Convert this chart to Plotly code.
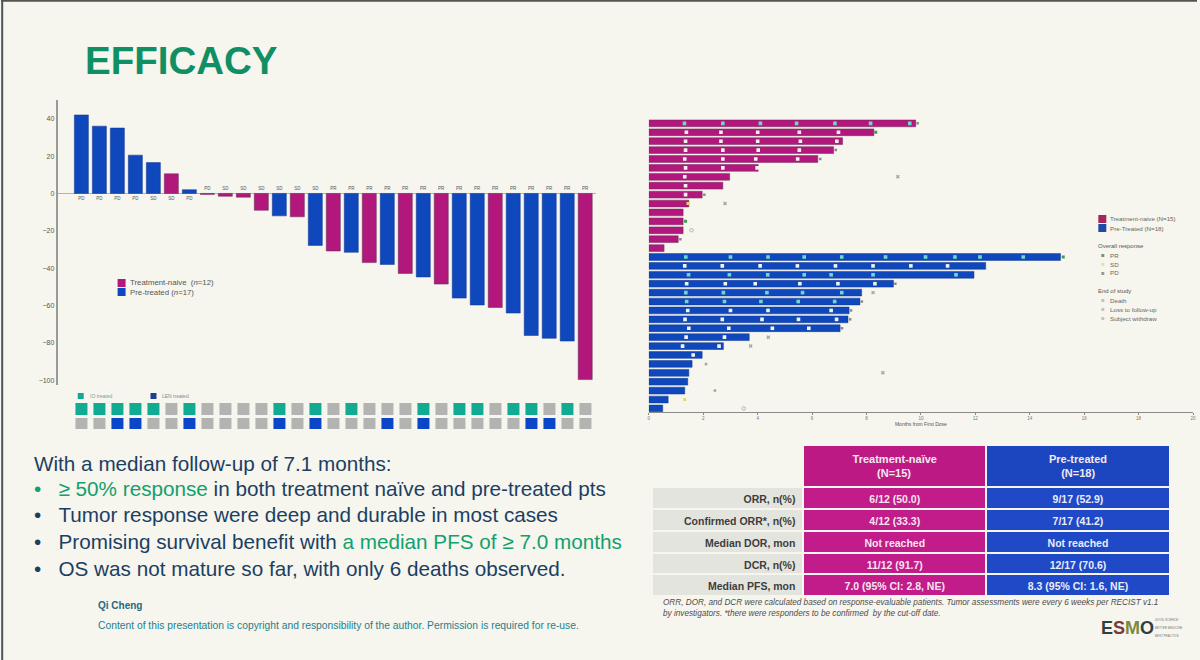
import plotly.graph_objects as go

MAGENTA = "#b2187c"
BLUE = "#0f47bd"
TEAL = "#10ab90"
NAVY = "#1b3f63"
GREEN = "#0f8f63"

# waterfall, best change from baseline
best_change = [42, 36, 35, 20.5, 16.5, 10.5, 2, -0.5, -1.5, -2, -9, -12, -12.5, -27.8, -30.8,
               -31.5, -37, -38, -42.8, -44.7, -48.5, -56, -59.7, -61, -64, -76, -77.5, -79, -99.6]
arm = ["P", "P", "P", "P", "P", "T", "P", "T", "T", "T", "T", "P", "T", "P", "T",
       "P", "T", "P", "T", "P", "T", "P", "P", "T", "P", "P", "P", "P", "T"]
response = ["PD", "PD", "PD", "PD", "SD", "SD", "PD", "PD", "SD", "SD", "SD", "SD", "SD", "SD", "PR",
            "PR", "PR", "PR", "PR", "PR", "PR", "PR", "PR", "PR", "PR", "PR", "PR", "PR", "PR"]
io_treated = [0, 1, 2, 3, 4, 6, 11, 13, 15, 19, 21, 22, 24, 25, 27]
len_treated = [2, 3, 6, 11, 13, 17, 19, 25, 26]
y_ticks = [40, 20, 0, -20, -40, -60, -80, -100]

# swimmer plot, months
naive_months = [9.81, 8.27, 7.12, 6.79, 6.21, 4.02, 2.97, 2.72, 1.96, 1.47, 1.26, 1.26, 1.26, 1.08, 0.56]
pre_months = [15.13, 12.38, 11.95, 8.99, 7.82, 7.76, 7.36, 7.32, 7.03, 3.69, 2.74, 1.96, 1.59, 1.47, 1.43, 1.32, 0.71, 0.51]
naive_pr = [[1.31, 2.72, 4.10, 5.43, 6.84, 8.15, 9.59], [1.38, 2.65, 4.0, 5.53, 6.97], [1.35, 2.65, 4.0, 5.57, 6.91],
            [1.35, 2.72, 4.02, 5.53], [1.32, 2.72, 3.93, 5.47], [1.35, 2.72, 3.98], [1.32], [1.35], [1.35],
            [], [], [], [], [], []]
pre_pr = [[1.36, 3.0, 4.38, 5.71, 7.09, 8.70, 10.17, 11.25, 12.17, 13.76], [1.32, 2.70, 4.09, 5.46, 6.86, 8.24, 9.63, 10.98],
          [1.46, 2.96, 4.37, 5.71, 6.70, 8.24, 11.29], [1.39, 2.81, 3.91, 5.55, 6.95, 8.31], [1.36, 2.74, 4.34, 5.65, 7.09],
          [1.39, 2.78, 4.12, 5.49, 6.83], [1.43, 3.0, 4.38, 6.70], [1.33, 2.70, 4.16, 5.50, 6.90], [1.47, 2.94, 4.54, 5.88],
          [1.37, 2.78], [1.24, 2.58], [1.63], [], [], [], [], [], []]
white_rows = [1, 2, 3, 4, 5, 6, 7, 8, 16, 18, 21, 22, 23, 24, 25, 26]
pr_end_x = [8.34, 1.35, 15.23]
pr_end_row = [1, 11, 15]
sd_x = [1.44, 1.32]
sd_row = [9, 31]
pd_x = [9.88, 6.87, 6.3, 2.04, 1.16, 9.06, 7.83, 7.43, 7.4, 7.1]
pd_row = [0, 3, 4, 8, 13, 18, 20, 21, 22, 23]
death_x = [9.15, 2.8, 8.24, 4.39, 3.74, 8.6]
death_row = [6, 9, 19, 24, 25, 28]
lost_x = [2.1, 2.43]
lost_row = [27, 30]
withdraw_x = [1.57, 3.49]
withdraw_row = [12, 32]

# table
table_head = ["", "<b>Treatment-naïve<br>\u00a0\u00a0\u00a0\u00a0\u00a0\u00a0\u00a0\u00a0(N=15)</b>", "<b>Pre-treated<br>\u00a0\u00a0\u00a0\u00a0(N=18)</b>"]
table_rows = ["ORR, n(%)", "Confirmed ORR*, n(%)", "Median DOR, mon", "DCR, n(%)", "Median PFS, mon"]
table_naive = ["6/12 (50.0)", "4/12 (33.3)", "Not reached", "11/12 (91.7)", "7.0 (95% CI: 2.8, NE)"]
table_pre = ["9/17 (52.9)", "7/17 (41.2)", "Not reached", "12/17 (70.6)", "8.3 (95% CI: 1.6, NE)"]


def px(x):
    return x / 1200


def py(y):
    return 1 - y / 660


def note(x, y, text, size, color, bold=False, italic=False, font="Liberation Sans"):
    if bold:
        text = "<b>" + text + "</b>"
    if italic:
        text = "<i>" + text + "</i>"
    fig.add_annotation(x=px(x), y=py(y), xref="paper", yref="paper", text=text, showarrow=False,
                       xanchor="left", yanchor="middle", align="left",
                       font=dict(size=size, color=color, family=font))


def swatch(x0, y0, x1, y1, color):
    fig.add_shape(type="rect", xref="paper", yref="paper", x0=px(x0), x1=px(x1), y0=py(y1), y1=py(y0),
                  fillcolor=color, line=dict(width=0))


fig = go.Figure()

# waterfall bars
for code, name, color in [("T", "Treatment-naive", MAGENTA), ("P", "Pre-treated", BLUE)]:
    idx = [i for i, a in enumerate(arm) if a == code]
    fig.add_trace(go.Bar(x=idx, y=[best_change[i] for i in idx], name=name, width=0.78,
                         marker=dict(color=color, line=dict(color="#5a2a50" if code == "T" else "#12368c", width=0.5)),
                         xaxis="x", yaxis="y"))

fig.add_trace(go.Scatter(x=list(range(len(response))), y=[-3 if v > 0 else 2.5 for v in best_change],
                         text=response, mode="text", textfont=dict(size=4.5, color="#555"),
                         hoverinfo="skip", xaxis="x", yaxis="y"))

# IO / LEN tiles
tiles = [[2 if i in len_treated else 0 for i in range(len(arm))],
         [1 if i in io_treated else 0 for i in range(len(arm))]]
fig.add_trace(go.Heatmap(z=tiles, x=list(range(len(arm))), y=["LEN", "IO"], xgap=6, ygap=3, showscale=False,
                         zmin=0, zmax=2, colorscale=[[0, "#b3b3b1"], [0.33, "#b3b3b1"], [0.33, TEAL], [0.67, TEAL],
                                                     [0.67, "#0b45c8"], [1, "#0b45c8"]],
                         xaxis="x2", yaxis="y2", hoverinfo="skip"))

# swimmer bars
all_months = naive_months + pre_months
rows = list(range(len(all_months)))
n_naive = len(naive_months)
fig.add_trace(go.Bar(x=naive_months, y=rows[:n_naive], orientation="h", width=0.76, name="Treatment-naive (N=15)",
                     marker=dict(color=MAGENTA, line=dict(color="#6e2a5c", width=0.5)), xaxis="x3", yaxis="y3"))
fig.add_trace(go.Bar(x=pre_months, y=rows[n_naive:], orientation="h", width=0.76, name="Pre-Treated (N=18)",
                     marker=dict(color=BLUE, line=dict(color="#12368c", width=0.5)), xaxis="x3", yaxis="y3"))

pr_x, pr_y, pr_color = [], [], []
for row, visits in enumerate(naive_pr + pre_pr):
    for v in visits:
        pr_x.append(v)
        pr_y.append(row)
        pr_color.append("#f4f4ee" if row in white_rows else "#6fd8cc")

fig.add_trace(go.Scatter(x=pr_x, y=pr_y, mode="markers", name="PR",
                         marker=dict(symbol="square", size=3.6, color=pr_color), xaxis="x3", yaxis="y3"))
fig.add_trace(go.Scatter(x=pr_end_x, y=pr_end_row, mode="markers", name="PR",
                         marker=dict(symbol="square", size=3, color="#3f9a5a"), xaxis="x3", yaxis="y3"))
fig.add_trace(go.Scatter(x=sd_x, y=sd_row, mode="markers", name="SD",
                         marker=dict(symbol="square", size=3, color="#e8d860"), xaxis="x3", yaxis="y3"))
fig.add_trace(go.Scatter(x=pd_x, y=pd_row, mode="markers", name="PD",
                         marker=dict(symbol="square", size=2.5, color="#8a8a84"), xaxis="x3", yaxis="y3"))
fig.add_trace(go.Scatter(x=death_x, y=death_row, mode="markers", name="Death",
                         marker=dict(symbol="x", size=3.5, color="#a8a8a0"), xaxis="x3", yaxis="y3"))
fig.add_trace(go.Scatter(x=lost_x, y=lost_row, mode="markers", name="Loss to follow-up",
                         marker=dict(symbol="circle", size=3, color="#a8a8a0"), xaxis="x3", yaxis="y3"))
fig.add_trace(go.Scatter(x=withdraw_x, y=withdraw_row, mode="markers", name="Subject withdraw",
                         marker=dict(symbol="circle-open", size=3.5, color="#b4b4ac"), xaxis="x3", yaxis="y3"))

# table
fig.add_trace(go.Table(
    domain=dict(x=[px(653), px(1173)], y=[py(597), py(445)]),
    columnwidth=[151, 182, 183],
    header=dict(values=table_head, height=36, align=["right", "center", "center"],
                fill_color=["rgba(0,0,0,0)", "#bd1985", "#1c46bf"],
                line=dict(color="#f6f5ee", width=2),
                font=dict(size=11, color="#f3e9f0", family="Liberation Sans")),
    cells=dict(values=[table_rows, table_naive, table_pre],
               height=21.8, align=["right", "center", "center"],
               fill_color=["#e4e4de", "#c21b8a", "#1f49c6"],
               line=dict(color="#f6f5ee", width=2),
               font=dict(size=10.5, color=["#3d3d3d", "#f5e6ef", "#e8edf8"], family="Liberation Sans", weight="bold")),
))

fig.update_layout(
    width=1200, height=660, margin=dict(l=0, r=0, t=0, b=0),
    paper_bgcolor="#f6f5ee", plot_bgcolor="rgba(0,0,0,0)",
    font=dict(family="Liberation Sans"),
    barmode="overlay", showlegend=False,
    xaxis=dict(domain=[px(57), px(597)], range=[-1.31, 28.6], visible=False),
    yaxis=dict(domain=[py(385), py(100)], range=[-102.5, 50], tickvals=y_ticks, showgrid=False,
               zeroline=True, zerolinecolor="#b5b5ae", zerolinewidth=1, showline=True, linecolor="#9a9a94", linewidth=2,
               ticks="", tickfont=dict(size=7, color="#555")),
    xaxis2=dict(domain=[px(57), px(597)], range=[-1.31, 28.6], visible=False, anchor="y2"),
    yaxis2=dict(domain=[py(431), py(402)], visible=False, anchor="x2"),
    xaxis3=dict(domain=[px(650), px(1196)], range=[0, 20], dtick=2, showgrid=False, zeroline=False, showline=True,
                anchor="y3", linecolor="#8c8c86", linewidth=1, ticks="outside", ticklen=2, tickcolor="#8c8c86",
                tickfont=dict(size=4.5, color="#777"),
                title=dict(text="Months from First Dose", font=dict(size=5, color="#555"), standoff=2)),
    yaxis3=dict(domain=[py(412), py(110)], range=[32.4, -1.5], visible=False, anchor="x3"),
)

# waterfall legend
swatch(117, 279, 125, 287, MAGENTA)
swatch(117, 288, 125, 296, BLUE)
note(127, 283, "Treatment-naive  (<i>n</i>=12)", 7.8, "#555")
note(127, 292, "Pre-treated (<i>n</i>=17)", 7.8, "#555")
swatch(77, 393, 83, 399, TEAL)
swatch(150, 393, 156, 399, "#1c3f8f")
note(87, 396, "IO treated", 5, "#7f9a94")
note(160, 396, "LEN treated", 5, "#7f8a94")

# swimmer legend
swatch(1101, 215, 1109, 223, "#a5265f")
swatch(1101, 224, 1109, 232, "#1b4aa8")
note(1111, 219, "Treatment-naive (N=15)", 6.2, "#666")
note(1111, 228, "Pre-Treated (N=18)", 6.2, "#666")
note(1099, 246, "Overall response", 6, "#555")
swatch(1104, 254, 1107, 257, "#6f9a6a")
note(1111, 255, "PR", 6.2, "#666")
swatch(1104, 263, 1107, 266, "#e8dfa0")
note(1111, 264, "SD", 6.2, "#666")
swatch(1104, 272, 1107, 275, "#9a9a94")
note(1111, 273, "PD", 6.2, "#666")
note(1099, 291, "End of study", 6, "#555")
swatch(1104, 299, 1107, 302, "#c4c4bc")
note(1111, 300, "Death", 6.2, "#666")
swatch(1104, 308, 1107, 311, "#c4c4bc")
note(1111, 309, "Loss to follow-up", 6.2, "#666")
swatch(1104, 317, 1107, 320, "#c4c4bc")
note(1111, 318, "Subject withdraw", 6.2, "#666")

note(82, 60, "EFFICACY", 38.5, GREEN, bold=True)
note(31, 463, "With a median follow-up of 7.1 months:", 20.7, NAVY)
note(31, 488, "<span style='color:#12a06e'>•\u00a0\u00a0\u00a0≥ 50% response</span> in both treatment naïve and pre-treated pts", 20.7, NAVY)
note(31, 514, "•\u00a0\u00a0\u00a0Tumor response were deep and durable in most cases", 20.7, NAVY)
note(31, 541, "•\u00a0\u00a0\u00a0Promising survival benefit with <span style='color:#12a06e'>a median PFS of ≥ 7.0 months</span>", 20.7, NAVY)
note(31, 568, "•\u00a0\u00a0\u00a0OS was not mature so far, with only 6 deaths observed.", 20.7, NAVY)
note(95, 605, "Qi Cheng", 10, "#1f6a80", bold=True)
note(95, 625, "Content of this presentation is copyright and responsibility of the author. Permission is required for re-use.", 10.3, "#1f7f8c")
note(662, 607.5, "ORR, DOR, and DCR were calculated based on response-evaluable patients. Tumor assessments were every 6 weeks per RECIST v1.1<br>by investigators. *there were responders to be confirmed  by the cut-off date.", 8.2, "#4d4d4d", italic=True)
note(1102, 628, "E<span style='color:#7a3a3a'>S</span><span style='color:#7d8a3a'>M</span>O", 18, "#2f3f3c", bold=True)
note(1156, 628, "GOOD SCIENCE<br><br>BETTER MEDICINE<br><br>BEST PRACTICE", 3, "#777")

fig.add_shape(type="line", xref="paper", yref="paper", x0=0, x1=1, y0=0.999, y1=0.999, line=dict(color="#55554f", width=2))
fig.add_shape(type="line", xref="paper", yref="paper", x0=0.001, x1=0.001, y0=0, y1=1, line=dict(color="#4a5560", width=2))

fig.write_html("out.html", post_script="document.body.style.margin='0';", config=dict(displayModeBar=False))
